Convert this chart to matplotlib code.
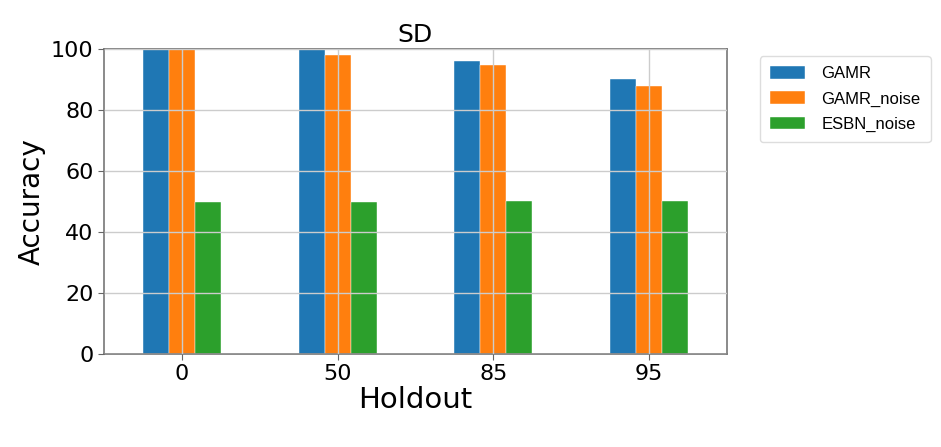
import matplotlib
matplotlib.use('Agg')
import matplotlib.pyplot as plt
import numpy as np

holdout = ['0', '50', '85', '95']
gamr = [100.0, 100.0, 96.2, 90.1]
gamr_noise = [100.0, 98.2, 94.9, 87.8]
esbn_noise = [50.0, 50.0, 50.2, 50.2]

series = [('GAMR', gamr, '#1f77b4'),
          ('GAMR_noise', gamr_noise, '#ff7f0e'),
          ('ESBN_noise', esbn_noise, '#2ca02c')]

fig = plt.figure(figsize=(9.41, 4.47), dpi=100, facecolor='white')
ax = fig.add_axes([0.1105, 0.208, 0.662, 0.682])

x = np.arange(len(holdout))
w = 0.5 / len(series)
for i, (name, vals, color) in enumerate(series):
    ax.bar(x + (i - 1) * w, vals, w, color=color, label=name,
           edgecolor='white', linewidth=0.3, zorder=1)

ax.set_xlim(-0.5, len(holdout) - 0.5)
ax.set_ylim(0, 100)
ax.set_xticks(x)
ax.set_xticklabels(holdout)
ax.set_yticks(np.arange(0, 101, 20))
ax.tick_params(labelsize=16, color='#666666', length=4)

ax.grid(True, color='#cccccc', linewidth=1)
ax.set_axisbelow(False)
for s in ax.spines.values():
    s.set_color('#777777')
    s.set_linewidth(1.2)

ax.set_title('SD', fontsize=18, pad=5)
ax.set_xlabel('Holdout', fontsize=21, labelpad=1)
ax.set_ylabel('Accuracy', fontsize=20)

leg = ax.legend(loc='upper left', bbox_to_anchor=(1.053, 0.977), borderaxespad=0,
                prop={'family': 'Liberation Sans', 'size': 12},
                handlelength=2.1, handleheight=0.8, labelspacing=0.6,
                handletextpad=1.0, borderpad=0.6, framealpha=1)
leg.get_frame().set_edgecolor('#dddddd')

fig.savefig('out.png', dpi=100)
